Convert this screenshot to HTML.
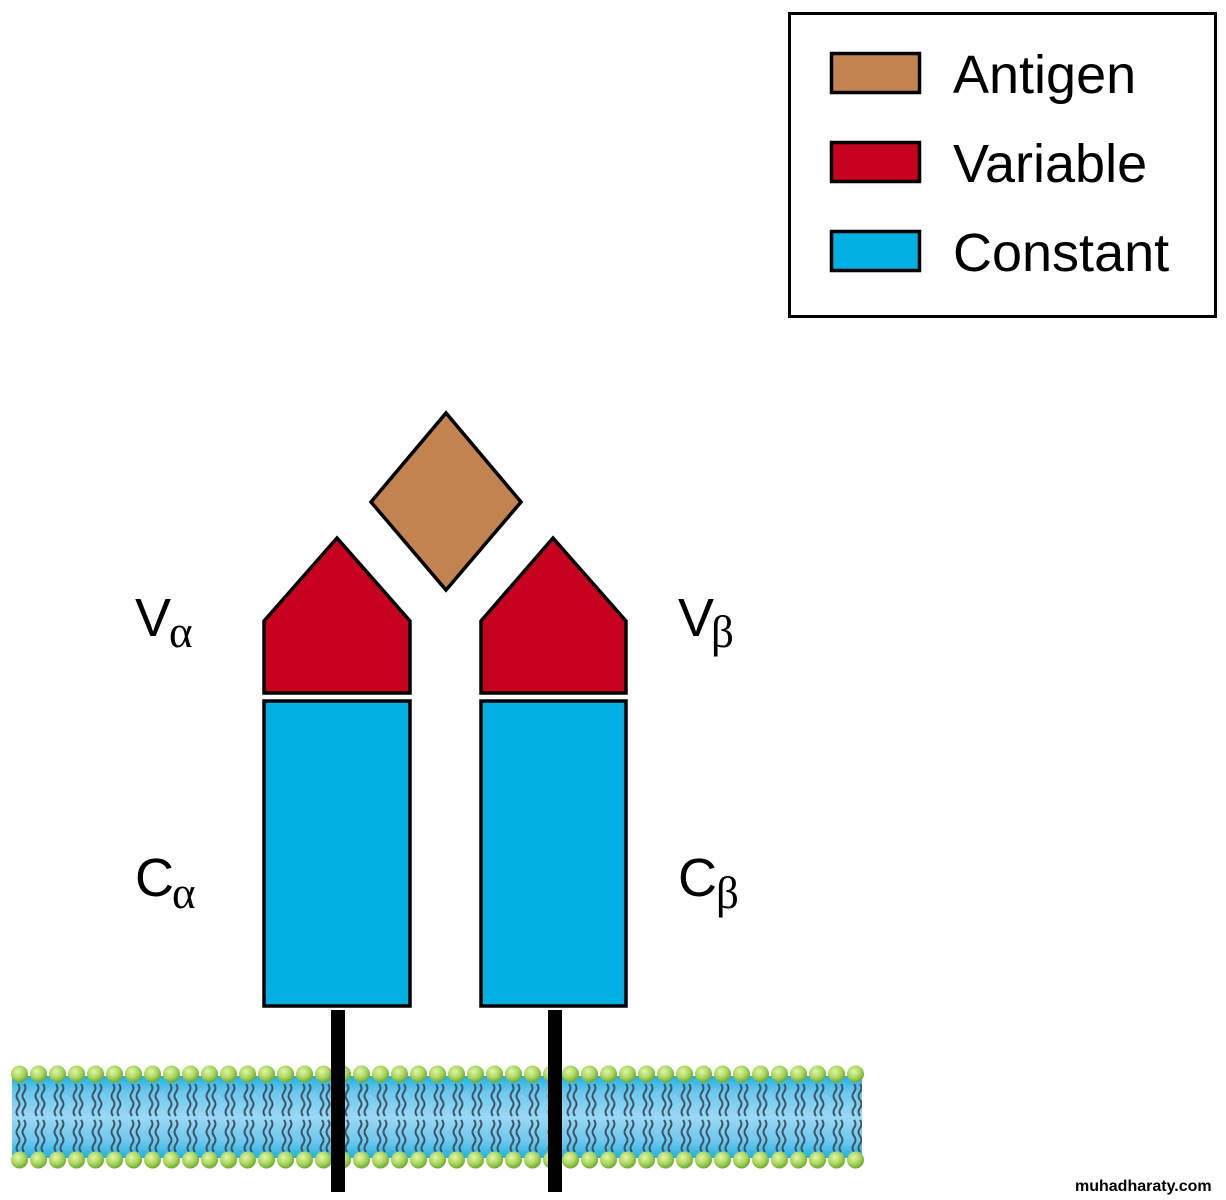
<!DOCTYPE html>
<html><head><meta charset="utf-8"><style>
html,body{margin:0;padding:0;background:#fff;}
svg{display:block}
</style></head><body>
<svg width="1226" height="1200" viewBox="0 0 1226 1200" xmlns="http://www.w3.org/2000/svg">
<defs>
<radialGradient id="bead" cx="40%" cy="35%" r="65%">
<stop offset="0" stop-color="#e4f5b0"/><stop offset="0.6" stop-color="#a8d65a"/><stop offset="1" stop-color="#6fa832"/>
</radialGradient>
<linearGradient id="mem" x1="0" y1="0" x2="0" y2="1">
<stop offset="0" stop-color="#1fb0e0"/><stop offset="0.2" stop-color="#6cc8ee"/><stop offset="0.5" stop-color="#9ad8f4"/><stop offset="0.8" stop-color="#6cc8ee"/><stop offset="1" stop-color="#1fb0e0"/>
</linearGradient>
<pattern id="tails" x="12" y="0" width="19" height="1200" patternUnits="userSpaceOnUse">
<path d="M6 1084 q3 4 0 8 q-3 4 0 8 q3 4 0 8 q-3 4 0 8 M12 1084 q3 4 0 8 q-3 4 0 8 q3 4 0 8 q-3 4 0 8 M6 1120 q3 4 0 8 q-3 4 0 8 q3 4 0 8 q-3 4 0 8 M12 1120 q3 4 0 8 q-3 4 0 8 q3 4 0 8 q-3 4 0 8" fill="none" stroke="#3d5566" stroke-width="2"/>
</pattern>
<pattern id="beads" x="10" y="0" width="19" height="1200" patternUnits="userSpaceOnUse">
<circle cx="9.5" cy="1074" r="8.5" fill="url(#bead)"/>
<circle cx="9.5" cy="1160" r="8.5" fill="url(#bead)"/>
</pattern>
</defs>
<rect x="12" y="1076" width="850" height="82" fill="url(#mem)"/>
<rect x="12" y="1076" width="850" height="82" fill="url(#tails)"/>
<rect x="10" y="1063" width="855" height="108" fill="url(#beads)"/>

<g stroke="#000" stroke-width="3.5" stroke-linejoin="miter">
<polygon points="446,413 521,502 446,590 371,502" fill="#c38351"/>
<polygon points="337,538 410,621 410,693 264,693 264,621" fill="#c8001f"/>
<polygon points="553,538 626,621 626,693 481,693 481,621" fill="#c8001f"/>
<rect x="264" y="701" width="146" height="305" fill="#00b0e2"/>
<rect x="481" y="701" width="145" height="305" fill="#00b0e2"/>
</g>
<rect x="331" y="1010" width="14" height="182" fill="#000"/>
<rect x="548" y="1010" width="14" height="182" fill="#000"/>

<g font-family="Liberation Sans, sans-serif" font-size="54" fill="#000">
<text x="135" y="636">V</text>
<text x="678" y="636">V</text>
<text x="135" y="896">C</text>
<text x="678" y="896">C</text>
</g>
<g font-family="Liberation Serif, serif" font-size="45" fill="#000">
<text x="169" y="647">α</text>
<text x="711" y="647">β</text>
<text x="172" y="908">α</text>
<text x="716" y="908">β</text>
</g>

<rect x="789.5" y="13.5" width="426" height="303" fill="#fff" stroke="#000" stroke-width="3"/>
<g stroke="#000" stroke-width="3.5">
<rect x="831.5" y="53.5" width="88" height="39" fill="#c38351"/>
<rect x="831.5" y="142.5" width="88" height="39" fill="#c8001f"/>
<rect x="831.5" y="231.5" width="88" height="39" fill="#00b0e2"/>
</g>
<g font-family="Liberation Sans, sans-serif" font-size="54" fill="#000">
<text x="953" y="93">Antigen</text>
<text x="953" y="182">Variable</text>
<text x="953" y="271">Constant</text>
</g>
<text x="1075" y="1191" font-family="Liberation Sans, sans-serif" font-size="16" font-weight="bold" fill="#000">muhadharaty.com</text>
</svg>
</body></html>
